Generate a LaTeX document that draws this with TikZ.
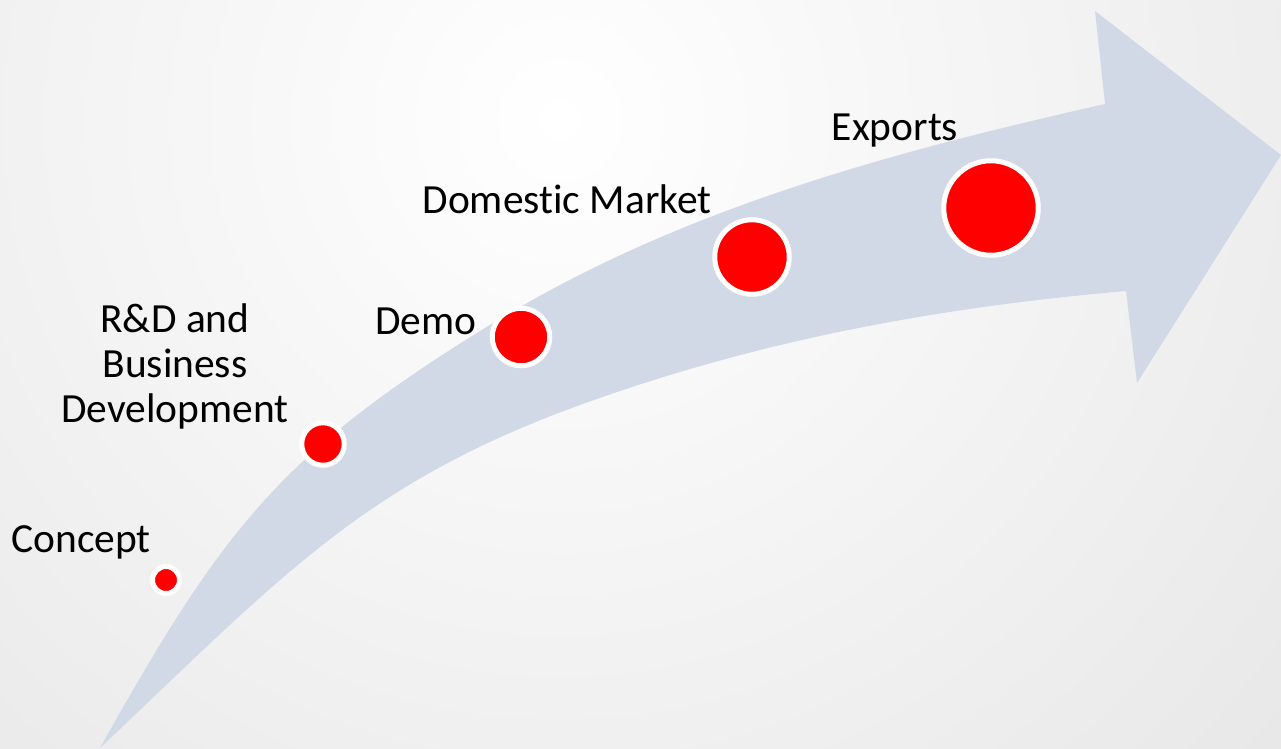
\documentclass[tikz,border=0pt]{standalone}
\usepackage{fontspec}
\setmainfont{Carlito}[Ligatures=NoCommon]
\usepackage{tikz}
\definecolor{FondGris}{gray}{0.81}
\definecolor{BleuFleche}{RGB}{209,217,231}
\definecolor{RougeEtape}{RGB}{255,0,0}
\tikzstyle{fleche} =[fill=BleuFleche]
\tikzstyle{etape}  =[circle, fill=RougeEtape, draw=white, line width=0.1cm, inner sep=0pt]
\tikzstyle{texte}  =[font=\fontsize{23.6pt}{25.6pt}\selectfont, inner sep=0pt, anchor=base, align=center]

\begin{document}
\begin{tikzpicture}[x=0.02cm,y=-0.02cm]
 \useasboundingbox (0,0) rectangle (1281,748);
 \clip (0,0) rectangle (1281,748);
 \shade[inner color=white, outer color=FondGris] (560,120) circle (40cm);
 \fill[fleche] (100,748) .. controls (222.3,530) and (279.8,453.3) .. (493,323)
   .. controls (680.7,208.4) and (890.5,152.4) .. (1105,104)
   -- (1095,11) -- (1281,155) -- (1137,383) -- (1126,291)
   .. controls (936.8,307.5) and (758.6,340.2) .. (580,405)
   .. controls (363.8,483.4) and (281.5,576.3) .. (100,748) -- cycle;
 \node[etape, minimum size=0.54cm] (pconcept) at (166,580) {};
 \node[etape, minimum size=0.85cm] (prd) at (323,444) {};
 \node[etape, minimum size=1.15cm] (pdemo) at (521,337) {};
 \node[etape, minimum size=1.49cm] (pmarche) at (752,257) {};
 \node[etape, minimum size=1.89cm] (pexport) at (991,208) {};
 \node[texte] (concept) at (81,552) {Concept};
 \node[texte] (rd) at (175,422) {R\&D and\\Business\\Development};
 \node[texte] (demo) at (426,334) {Demo};
 \node[texte] (marche) at (567,213) {Domestic Market};
 \node[texte] (export) at (895,140) {Exports};
\end{tikzpicture}
\end{document}
